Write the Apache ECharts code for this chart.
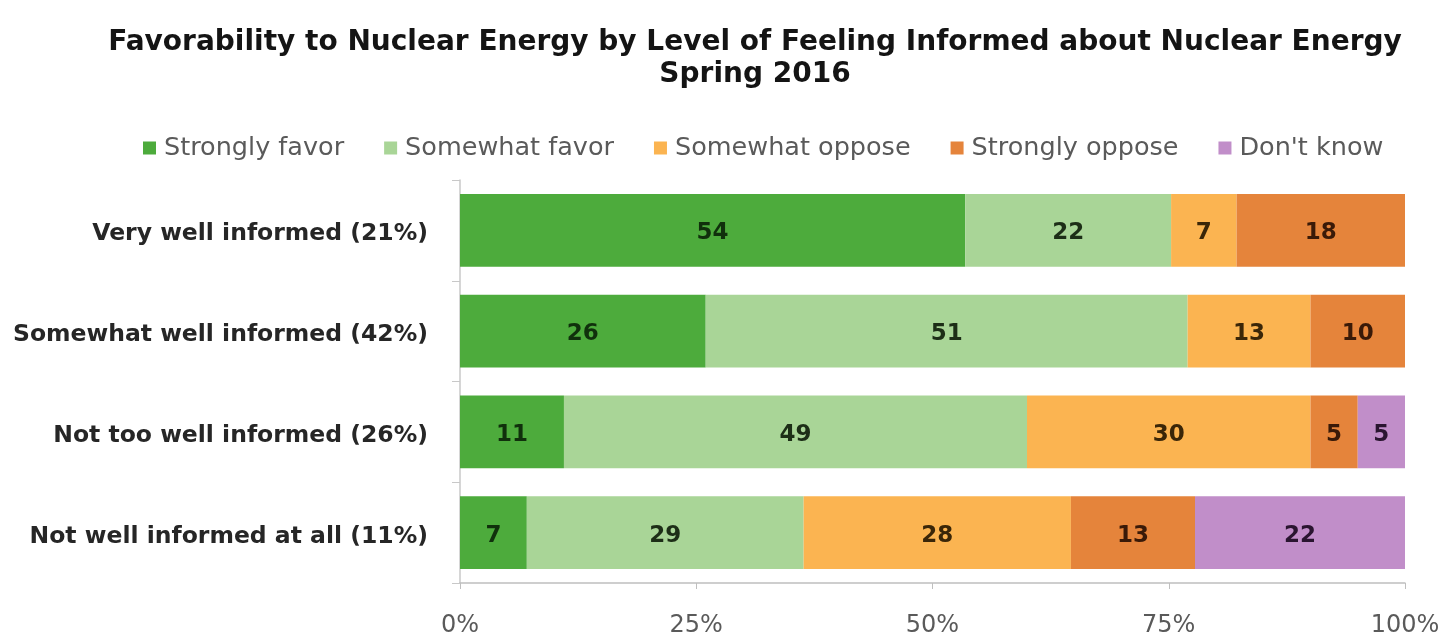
<!DOCTYPE html>
<html>
<head>
<meta charset="utf-8">
<script src="https://cdn.jsdelivr.net/npm/echarts@6/dist/echarts.min.js"></script>
<style>
  html, body { margin: 0; padding: 0; background: #ffffff; }
  #chart { width: 1443px; height: 638px; }
</style>
</head>
<body>
<div id="chart"></div>
<script>
// Respondent groups, top to bottom
const categories = [
  'Very well informed (21%)',
  'Somewhat well informed (42%)',
  'Not too well informed (26%)',
  'Not well informed at all (11%)'
];

// Response shares (%) per group
const stronglyFavor   = [54, 26, 11, 7];
const somewhatFavor   = [22, 51, 49, 29];
const somewhatOppose  = [7, 13, 30, 28];
const stronglyOppose  = [18, 10, 5, 13];
const dontKnow        = [0, 0, 5, 22];

const seriesNames = ['Strongly favor', 'Somewhat favor', 'Somewhat oppose', 'Strongly oppose', "Don't know"];
const seriesValues = [stronglyFavor, somewhatFavor, somewhatOppose, stronglyOppose, dontKnow];
const seriesColors = ['#4dab3c', '#a9d597', '#fbb451', '#e5843b', '#c18ec9'];
const labelColors  = ['#10300c', '#1d2e17', '#3a2608', '#3a1a08', '#2a1530'];

const xTicks = [0, 25, 50, 75, 100];

// Each bar is drawn as a 100% stack: every segment is its share of the row total
const rowTotals = categories.map((_, i) => seriesValues.reduce((s, arr) => s + arr[i], 0));

const FONT = '"DejaVu Sans", sans-serif';

const series = seriesNames.map((name, k) => ({
  name: name,
  type: 'bar',
  stack: 'total',
  barCategoryGap: '28%',
  itemStyle: { color: seriesColors[k] },
  label: {
    show: true,
    position: 'inside',
    offset: [0, 3],
    fontFamily: FONT,
    fontWeight: 'bold',
    fontSize: 23,
    color: labelColors[k],
    formatter: p => (p.data.raw ? String(p.data.raw) : '')
  },
  data: seriesValues[k].map((v, i) => ({ value: v / rowTotals[i] * 100, raw: v }))
}));

const chart = echarts.init(document.getElementById('chart'), null, { renderer: 'canvas' });
chart.setOption({
  backgroundColor: '#ffffff',
  animation: false,
  title: {
    text: 'Favorability to Nuclear Energy by Level of Feeling Informed about Nuclear Energy\nSpring 2016',
    left: 750,
    textAlign: 'center',
    top: 22,
    textStyle: {
      fontFamily: FONT,
      fontWeight: 'bold',
      fontSize: 28,
      lineHeight: 32,
      color: '#141414'
    }
  },
  legend: {
    data: seriesNames,
    top: 130,
    left: 138,
    itemWidth: 13,
    itemHeight: 13,
    itemGap: 40,
    icon: 'rect',
    textStyle: { fontFamily: FONT, fontSize: 25.5, color: '#5a5a5a', padding: [0, 0, 0, 3] }
  },
  grid: { left: 460, right: 38, top: 180, bottom: 55, containLabel: false },
  xAxis: {
    type: 'value',
    min: 0,
    max: 100,
    interval: 25,
    splitLine: { show: false },
    axisLine: { show: true, lineStyle: { color: '#bfbfbf', width: 1.5 } },
    axisTick: { show: true, length: 6, lineStyle: { color: '#bfbfbf' } },
    axisLabel: {
      margin: 31,
      fontFamily: FONT,
      fontSize: 24,
      color: '#5a5a5a',
      formatter: v => (xTicks.includes(v) ? v + '%' : '')
    }
  },
  yAxis: {
    type: 'category',
    data: categories,
    inverse: true,
    axisLine: { show: true, lineStyle: { color: '#c8c8c8', width: 1.5 } },
    axisTick: { show: true, length: 8, lineStyle: { color: '#c8c8c8' } },
    axisLabel: {
      margin: 32,
      formatter: v => '{c|' + v + '}',
      rich: {
        c: {
          fontFamily: FONT,
          fontWeight: 'bold',
          fontSize: 23.5,
          color: '#262626',
          padding: [8, 0, 0, 0]
        }
      }
    }
  },
  series: series
});
</script>
</body>
</html>
